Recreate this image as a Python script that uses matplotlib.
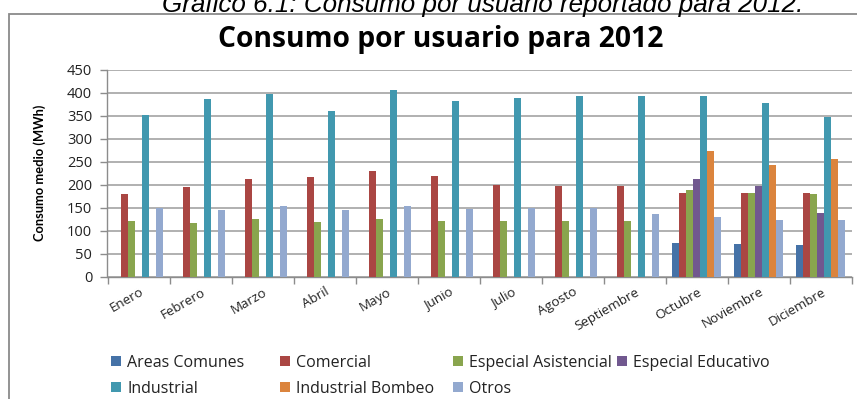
import numpy as np
import matplotlib
matplotlib.use("Agg")
import matplotlib.pyplot as plt
import matplotlib.transforms as mtransforms
from matplotlib.patches import Rectangle, Patch

# ---- monthly average consumption per user type (MWh), 2012
months = ["Enero", "Febrero", "Marzo", "Abril", "Mayo", "Junio", "Julio",
          "Agosto", "Septiembre", "Octubre", "Noviembre", "Diciembre"]
areas_comunes = [0, 0, 0, 0, 0, 0, 0, 0, 0, 73, 70, 69]
comercial = [180, 194, 213, 216, 229, 218, 200, 198, 197, 183, 181, 183]
especial_asistencial = [122, 117, 125, 118, 126, 120, 122, 122, 122, 188, 181, 179]
especial_educativo = [0, 0, 0, 0, 0, 0, 0, 0, 0, 213, 198, 139]
industrial = [353, 387, 398, 360, 407, 382, 389, 394, 393, 393, 379, 348]
industrial_bombeo = [0, 0, 0, 0, 0, 0, 0, 0, 0, 273, 244, 256]
otros = [149, 145, 154, 144, 154, 148, 149, 149, 137, 130, 124, 124]

series_names = ["Areas Comunes", "Comercial", "Especial Asistencial",
                "Especial Educativo", "Industrial", "Industrial Bombeo", "Otros"]
series_values = [areas_comunes, comercial, especial_asistencial,
                 especial_educativo, industrial, industrial_bombeo, otros]
colors = ["#4572A7", "#AA4643", "#89A54E", "#71588F",
          "#4198AF", "#DB843D", "#93A9CF"]

FONT = "Open Sans"

W, H = 857, 399
fig = plt.figure(figsize=(W / 100, H / 100), dpi=100)
fig.patch.set_facecolor("white")

# chart frame (only top and left edges fall inside the figure)
fig.add_artist(Rectangle((8.5 / W, -0.05), 1.2, 1 - 13.5 / H + 0.05,
                         transform=fig.transFigure, fill=False,
                         edgecolor="#8a8a8a", lw=1.3))

# caption above the chart frame
fig.text(483 / W, 1 - 12 / H,
         "Gráfico 6.1: Consumo por usuario reportado para 2012.",
         family="Liberation Sans", style="italic", fontsize=18.7,
         ha="center", va="baseline", color="black")

ax = fig.add_axes([107.5 / W, (H - 276.5) / H, 744 / W, 206.5 / H])

x = np.arange(len(months))
n = len(series_names)
w = 1 / (n + 1.8)
for k, (name, vals, c) in enumerate(zip(series_names, series_values, colors)):
    ax.bar(x + (k - (n - 1) / 2) * w, vals, width=w, color=c,
           edgecolor="none", zorder=3, label=name)

ax.set_xlim(-0.5, len(months) - 0.5)
ax.set_ylim(0, 450)
ax.set_yticks(np.arange(0, 451, 50))
ax.yaxis.grid(True, color="#b0b0b0", lw=1.4, zorder=0)
ax.set_axisbelow(True)

for s in ["top", "right"]:
    ax.spines[s].set_visible(False)
for s in ["left", "bottom"]:
    ax.spines[s].set_color("#8c8c8c")
    ax.spines[s].set_linewidth(1.0)

ax.set_xticks(x)
ax.set_xticks(np.arange(-0.5, len(months)), minor=True)
ax.tick_params(axis="x", which="major", length=0, pad=10.4)
ax.tick_params(axis="x", which="minor", length=5, color="#8c8c8c", width=1.0)
ax.tick_params(axis="y", length=5, color="#8c8c8c", width=1.0, pad=6,
               labelsize=10.5, labelcolor="#222222")
for lab in ax.get_yticklabels():
    lab.set_family(FONT)
ax.set_xticklabels(months, rotation=30, ha="right", va="center",
                   rotation_mode="anchor", family=FONT, fontsize=9.6,
                   color="#222222")
# nudge month names a few pixels right of the group centre
shift = mtransforms.ScaledTranslation(0.04, 0, fig.dpi_scale_trans)
for lab in ax.get_xticklabels():
    lab.set_transform(lab.get_transform() + shift)

ax.set_ylabel("Consumo medio (MWh)", family="Lato", fontweight="bold",
              fontsize=9.3)
ax.yaxis.set_label_coords(-(107.5 - 46) / 744, 0.5)

fig.text(440.5 / W, 1 - 40 / H, "Consumo por usuario para 2012",
         family=FONT, fontweight="bold", fontsize=20.3,
         ha="center", va="center", color="black")

# legend laid out in four equal columns, row-major like the spreadsheet
handles = [Patch(facecolor=c, edgecolor="none") for c in colors]
col_x = [111, 280, 453, 617]
cols = [[0, 4], [1, 5], [2, 6], [3]]
for cx, idx in zip(col_x, cols):
    fig.legend([handles[i] for i in idx], [series_names[i] for i in idx],
               loc="upper left", bbox_to_anchor=(cx / W, 1 - 355 / H),
               frameon=False, borderpad=0, borderaxespad=0,
               handlelength=0.6, handleheight=0.6, handletextpad=0.42,
               labelspacing=0.6, prop={"family": FONT, "size": 11.5},
               labelcolor="#222222")

fig.savefig("out.png", dpi=100)
